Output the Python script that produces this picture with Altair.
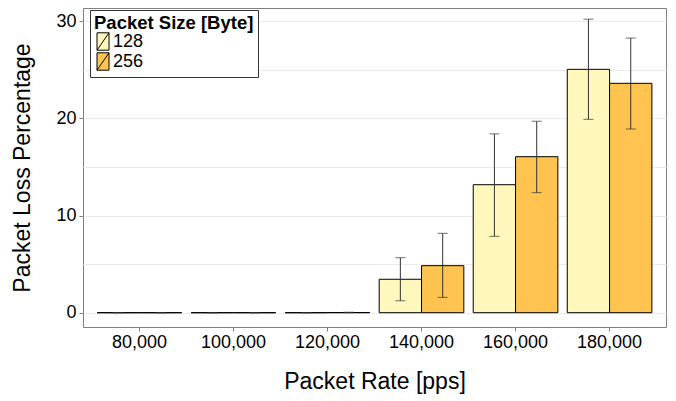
import altair as alt
import pandas as pd

rates = ["80,000", "100,000", "120,000", "140,000", "160,000", "180,000"]
sizes = ["128", "256"]
loss_128 = [0.0, 0.0, 0.0, 3.44, 13.17, 25.04]
loss_256 = [0.0, 0.0, 0.02, 4.84, 16.05, 23.6]
low_128 = [0.0, 0.0, 0.0, 1.23, 7.86, 19.9]
high_128 = [0.0, 0.0, 0.0, 5.66, 18.4, 30.2]
low_256 = [0.0, 0.0, 0.0, 1.58, 12.35, 18.9]
high_256 = [0.0, 0.0, 0.05, 8.17, 19.7, 28.26]
colors = ["#FFF7BC", "#FEC44F"]
y_ticks = [0, 5, 10, 15, 20, 25, 30]

rows = []
for i, r in enumerate(rates):
    rows.append({"rate": r, "size": "128", "loss": loss_128[i], "low": low_128[i], "high": high_128[i]})
    rows.append({"rate": r, "size": "256", "loss": loss_256[i], "low": low_256[i], "high": high_256[i]})
df = pd.DataFrame(rows)

FONT = "Liberation Sans"

x_enc = alt.X(
    "rate:N",
    sort=rates,
    scale=alt.Scale(paddingInner=0.1, paddingOuter=0.15),
    axis=alt.Axis(title="Packet Rate [pps]", labelAngle=0, bandPosition=0.5, titlePadding=19, labelPadding=2),
)
xo_enc = alt.XOffset("size:N", sort=sizes, scale=alt.Scale(paddingInner=0, paddingOuter=0))
y_scale = alt.Scale(domain=[-1.47, 31.35], nice=False, zero=False)
y_axis = alt.Axis(
    title="Packet Loss Percentage",
    values=y_ticks,
    labelExpr="datum.value % 10 === 0 ? datum.label : ''",
    tickOpacity={"condition": {"test": "datum.value % 10 !== 0", "value": 0}, "value": 1},
    titlePadding=21,
    labelPadding=3,
)

base = alt.Chart(df).encode(x=x_enc, xOffset=xo_enc)

bars = base.mark_bar(stroke="black", strokeWidth=1).encode(
    y=alt.Y("loss:Q", scale=y_scale, axis=y_axis),
    fill=alt.Fill(
        "size:N",
        scale=alt.Scale(domain=sizes, range=colors),
        legend=alt.Legend(
            title="Packet Size [Byte]",
            orient="none",
            legendX=7,
            legendY=2,
            strokeColor="#333333",
            fillColor="white",
            padding=4,
            titleFont=FONT,
            titleFontSize=18.5,
            titleFontWeight="bold",
            titleColor="black",
            titlePadding=0,
            labelFont=FONT,
            labelFontSize=18,
            labelColor="black",
            labelOffset=1,
            rowPadding=-2,
            symbolType="M-1,-1.45H1V1.45H-1Z M-1,1.45L1,-1.45",
            symbolSize=144,
            symbolStrokeColor="black",
            symbolStrokeWidth=1,
            symbolOpacity=1,
        ),
    ),
)

rules = base.mark_rule(color="#333333", strokeWidth=1).encode(
    y=alt.Y("low:Q", scale=y_scale, axis=y_axis), y2="high:Q"
)
caps_hi = base.mark_tick(orient="horizontal", size=10, thickness=1, color="#333333").encode(
    y=alt.Y("high:Q", scale=y_scale, axis=y_axis)
)
caps_lo = base.mark_tick(orient="horizontal", size=10, thickness=1, color="#333333").encode(
    y=alt.Y("low:Q", scale=y_scale, axis=y_axis)
)

chart = (
    alt.layer(bars, rules, caps_hi, caps_lo)
    .properties(
        width=583,
        height=319,
        autosize=alt.AutoSizeParams(type="none"),
        padding={"left": 75, "top": 0, "right": 2, "bottom": 70},
    )
    .configure_view(stroke="#7f7f7f", strokeWidth=1)
    .configure_axis(
        domain=False,
        tickColor="#7f7f7f",
        tickSize=4,
        labelFont=FONT,
        labelFontSize=18,
        labelColor="black",
        titleFont=FONT,
        titleFontSize=23,
        titleFontWeight="normal",
        titleColor="black",
        gridColor="#ebebeb",
        gridWidth=1,
    )
)

chart.save("out.html", embed_options={"renderer": "svg", "actions": False})
